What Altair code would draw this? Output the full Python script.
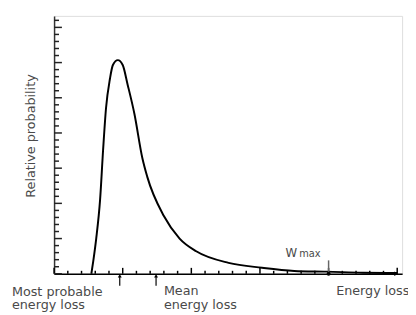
import altair as alt
import pandas as pd

# curve (energy loss, relative probability)
energy = [0.543, 0.571, 0.614, 0.671, 0.714, 0.757, 0.814, 0.857, 0.929, 1.0, 1.071,
          1.171, 1.286, 1.357, 1.6, 1.829, 2.071, 2.543, 3.029, 3.5, 3.971, 4.5, 5.0]
prob = [0, 0.36, 1.0, 2.12, 3.51, 4.71, 5.54, 5.93, 6.07, 5.93, 5.38,
        4.54, 3.29, 2.76, 1.64, 1.0, 0.64, 0.31, 0.17, 0.08, 0.06, 0.03, 0.02]

x_minor = [round(i * 0.2, 2) for i in range(26) if i % 5 != 0]
x_major = [0, 1, 2, 3, 4, 5]
y_minor = [round(i * 0.2, 2) for i in range(37) if i % 5 != 0]
y_major = [0, 1, 2, 3, 4, 5, 6, 7]

most_probable = 0.957
mean_loss = 1.486
w_max = 4.0
x_end = 4.986

W, H = 355, 263
XD = [0, 355 / 70]
YD = [0, 263 / 35.9]
FONT = "DejaVu Sans"
TXT = "#4a4a4a"

xs = alt.Scale(domain=XD, nice=False, zero=False)
ys = alt.Scale(domain=YD, nice=False, zero=False)

curve_df = pd.DataFrame({"e": energy, "p": prob})

base = alt.Chart(curve_df).mark_line(color="black", strokeWidth=2, interpolate="monotone").encode(
    x=alt.X("e:Q", scale=xs, axis=alt.Axis(labels=False, ticks=False, grid=False, title=None,
                                            domainColor="black", domainWidth=1.5)),
    y=alt.Y("p:Q", scale=ys, axis=alt.Axis(labels=False, ticks=False, grid=False,
                                            title="Relative probability", titleFont=FONT,
                                            titleFontSize=13, titleFontWeight="normal",
                                            titleColor=TXT, titlePadding=17, titleY=122,
                                            domainColor="#333", domainWidth=1.5)),
)

def xticks(vals, length):
    return alt.Chart(pd.DataFrame({"xt": vals})).mark_rule(color="black", strokeWidth=1.5).encode(
        x=alt.X("xt:Q", scale=xs), y=alt.value(H), y2=alt.value(H - length))

def yticks(vals, length):
    return alt.Chart(pd.DataFrame({"yt": vals})).mark_rule(color="#222", strokeWidth=1.5).encode(
        y=alt.Y("yt:Q", scale=ys), x=alt.value(0), x2=alt.value(length))

labels_df = pd.DataFrame({
    "x": [-0.614, 1.6, 4.11],
    "y": [-0.62, -0.60, -0.59],
    "t": [["Most probable", "energy loss"], ["Mean", "energy loss"], ["Energy loss"]],
})
labels = alt.Chart(labels_df).mark_text(font=FONT, fontSize=13, color=TXT, align="left",
                                        baseline="alphabetic", lineHeight=14).encode(
    x=alt.X("x:Q", scale=xs), y=alt.Y("y:Q", scale=ys), text="t")

arrow_df = pd.DataFrame({"x": [most_probable, mean_loss], "y": [-0.06, -0.06], "y2": [-0.34, -0.34]})
arrow_stem = alt.Chart(arrow_df).mark_rule(color="black", strokeWidth=1.2).encode(
    x=alt.X("x:Q", scale=xs), y=alt.Y("y:Q", scale=ys), y2="y2:Q")
arrow_head = alt.Chart(arrow_df).mark_point(shape="triangle-up", filled=True, color="black",
                                            size=16, opacity=1).encode(
    x=alt.X("x:Q", scale=xs), y=alt.Y("y:Q", scale=ys))

wmax_rule = alt.Chart(pd.DataFrame({"x": [w_max], "y": [0], "y2": [0.38]})).mark_rule(
    color="#666", strokeWidth=1.5).encode(
    x=alt.X("x:Q", scale=xs), y=alt.Y("y:Q", scale=ys), y2="y2:Q")
wmax_dot = alt.Chart(pd.DataFrame({"x": [w_max], "y": [0]})).mark_point(
    shape="circle", filled=True, color="black", size=16, opacity=1).encode(
    x=alt.X("x:Q", scale=xs), y=alt.Y("y:Q", scale=ys))
wmax_w = alt.Chart(pd.DataFrame({"x": [3.543], "y": [0.47], "t": ["W"]})).mark_text(
    font=FONT, fontSize=12, color=TXT, align="right", baseline="alphabetic").encode(
    x=alt.X("x:Q", scale=xs), y=alt.Y("y:Q", scale=ys), text="t")
wmax_sub = alt.Chart(pd.DataFrame({"x": [3.571], "y": [0.47], "t": ["max"]})).mark_text(
    font=FONT, fontSize=10, color=TXT, align="left", baseline="alphabetic").encode(
    x=alt.X("x:Q", scale=xs), y=alt.Y("y:Q", scale=ys), text="t")

end_arrow = alt.Chart(pd.DataFrame({"x": [x_end], "y": [0]})).mark_point(
    shape="triangle-right", filled=True, color="black", size=22, opacity=1).encode(
    x=alt.X("x:Q", scale=xs), y=alt.Y("y:Q", scale=ys))

chart = alt.layer(
    base, xticks(x_minor, 3), xticks(x_major, 6), yticks(y_minor, 5), yticks(y_major, 8),
    labels, arrow_stem, arrow_head, wmax_rule, wmax_dot, wmax_w, wmax_sub, end_arrow,
).properties(
    width=W, height=H,
    autosize=alt.AutoSizeParams(type="none"),
    padding={"left": 47, "top": 5, "right": 6, "bottom": 39},
).configure_view(stroke="#8a8a8a", strokeWidth=1.5).configure(background="white")

chart.save("out.html", embed_options={"renderer": "svg", "actions": False})
